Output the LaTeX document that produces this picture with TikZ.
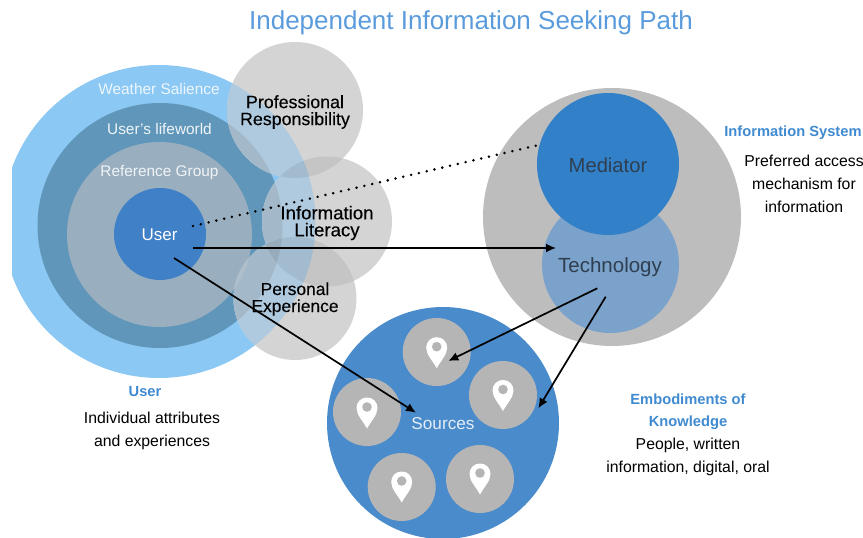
\documentclass[tikz,border=0pt]{standalone}
\usepackage{fontspec}
\setmainfont{Liberation Sans}
\usetikzlibrary{arrows.meta}
\definecolor{outerblue}{HTML}{8CC8F4}
\definecolor{lifeblue}{HTML}{5F96B9}
\definecolor{refgrey}{HTML}{99AFBF}
\definecolor{userblue}{HTML}{3F80C6}
\definecolor{sysgrey}{HTML}{BDBDBD}
\definecolor{medblue}{HTML}{3180C8}
\definecolor{techblue}{HTML}{7AA2CA}
\definecolor{srcblue}{HTML}{4A8BCB}
\definecolor{srcgrey}{HTML}{B5B5B5}
\definecolor{headblue}{HTML}{3F8AD0}
\definecolor{titleblue}{HTML}{5A9BDC}
\definecolor{darktext}{HTML}{2F3F50}
\definecolor{softgrey}{HTML}{D4D4D4}
\definecolor{overouter}{HTML}{AFCADF}
\definecolor{overlife}{HTML}{A3B9C9}
\definecolor{overref}{HTML}{AEBECA}
\newcommand{\overlapdisc}[3]{%
  \begin{scope}
    \clip (#1,#2) circle (#3);
    \fill[overouter] (159,221.5) circle (156.5);
    \fill[overlife] (160,225.5) circle (122.5);
    \fill[overref] (159.5,234.5) circle (92.5);
  \end{scope}}
\newcommand{\doubleshade}[6]{%
  \begin{scope}
    \clip (#1,#2) circle (#3);
    \fill[black,fill opacity=.07] (#4,#5) circle (#6);
  \end{scope}}
\tikzset{
  disc/.style={circle,draw=none,inner sep=0pt,minimum size=#1},
  whitetext/.style={text=white,font=\fontsize{#1}{#1}\selectfont},
  blacktext/.style={text=black,align=center,font=\fontsize{#1}{17}\selectfont\addfontfeature{FakeBold=0.25}},
  bodytext/.style={text=black,align=center,font=\fontsize{15.8}{23}\selectfont},
  headtext/.style={text=headblue,align=center,font=\fontsize{14.7}{22}\selectfont\bfseries},
  arrowline/.style={draw=black,line width=1.7pt,-{Latex[length=10pt,width=9pt]}},
  dotline/.style={draw=black,line width=2.8pt,line cap=round,dash pattern=on 0pt off 8pt},
  mappin/.pic={
    \fill[white] (0,20.5) .. controls (-4,13) and (-10.5,7) .. (-10.5,0)
      .. controls (-10.5,-6) and (-6,-10.5) .. (0,-10.5)
      .. controls (6,-10.5) and (10.5,-6) .. (10.5,0)
      .. controls (10.5,7) and (4,13) .. (0,20.5) -- cycle;
    \fill[srcgrey] (0,-1) circle (4.8);
  }
}
\begin{document}
\begin{tikzpicture}[x=1pt,y=-1pt]
\useasboundingbox (0,0) rectangle (863,538);
\begin{scope}
\clip (12,0) rectangle (863,538);
% user rings
\node[disc=313pt,fill=outerblue] (outer) at (159,221.5) {};
\node[disc=245pt,fill=lifeblue] (life) at (160,225.5) {};
\node[disc=185pt,fill=refgrey] (ref) at (159.5,234.5) {};
\node[disc=92pt,fill=userblue] (user) at (160,234) {};
% overlapping circles
\node[disc=136pt,fill=softgrey] (prof) at (295,110) {};
\node[disc=130pt,fill=softgrey] (lit) at (327,221.5) {};
\node[disc=123pt,fill=softgrey] (pers) at (295,298.5) {};
\overlapdisc{295}{110}{68}
\overlapdisc{327}{221.5}{65}
\overlapdisc{295}{298.5}{61.5}
\doubleshade{295}{110}{68}{327}{221.5}{65}
\doubleshade{327}{221.5}{65}{295}{298.5}{61.5}
% information system
\node[disc=258pt,fill=sysgrey] (sys) at (612,217) {};
\node[disc=137pt,fill=techblue] (tech) at (610.5,264.5) {};
\node[disc=142pt,fill=medblue] (med) at (608,164) {};
% sources
\node[disc=232pt,fill=srcblue] (src) at (443,423) {};
\node[disc=68pt,fill=srcgrey] (s1) at (436.7,352) {};
\node[disc=68pt,fill=srcgrey] (s2) at (503,395) {};
\node[disc=68pt,fill=srcgrey] (s3) at (367,412) {};
\node[disc=68pt,fill=srcgrey] (s4) at (401.7,487) {};
\node[disc=68pt,fill=srcgrey] (s5) at (480,479) {};
\end{scope}
\pic at (436.7,347.7) {mappin};
\pic at (503,390.5) {mappin};
\pic at (367,408) {mappin};
\pic at (401.7,482) {mappin};
\pic at (480,474) {mappin};
% text
\node[text=titleblue,font=\fontsize{26}{26}\selectfont] (title) at (471,22.5) {Independent Information Seeking Path};
\node[whitetext=15.4,opacity=.85] (tw) at (159,89) {Weather Salience};
\node[whitetext=15.4,opacity=.9] (tl) at (159.5,129) {User's lifeworld};
\node[whitetext=15.4,opacity=.85] (tr) at (159.5,173) {Reference Group};
\node[whitetext=17] (tu) at (159.5,234.5) {User};
\node[blacktext=17.8] (tp) at (295,112) {Professional\\Responsibility};
\node[blacktext=18.6] (ti) at (327,223) {Information\\Literacy};
\node[blacktext=17.4] (te) at (295,299) {Personal\\Experience};
\node[text=darktext,font=\fontsize{20.2}{20}\selectfont] (tm) at (608,165) {Mediator};
\node[text=darktext,font=\fontsize{20.5}{20}\selectfont] (tt) at (610,267) {Technology};
\node[whitetext=17.2,opacity=.85] (ts) at (443,424) {Sources};
\node[headtext] (hsys) at (793,133) {Information System};
\node[bodytext] (bsys) at (804,184) {Preferred access\\mechanism for\\information};
\node[headtext] (huser) at (145,392) {User};
\node[bodytext] (buser) at (152,431) {Individual attributes\\and experiences};
\node[headtext] (hemb) at (688,412) {Embodiments of\\Knowledge};
\node[bodytext] (bemb) at (688,457) {People, written\\information, digital, oral};
% connector ends
\coordinate (a1) at (193,226);
\coordinate (a2) at (543,144);
\coordinate (b1) at (193,248);
\coordinate (b2) at (556,248);
\coordinate (c1) at (174,258);
\coordinate (c2) at (416,412.7);
\coordinate (d1) at (597.3,288.3);
\coordinate (d2) at (448.3,361);
\coordinate (e1) at (605.7,296.7);
\coordinate (e2) at (538.3,408.3);
\draw[dotline] (a1) -- (a2);
\draw[arrowline] (b1) -- (b2);
\draw[arrowline] (c1) -- (c2);
\draw[arrowline] (d1) -- (d2);
\draw[arrowline] (e1) -- (e2);
\end{tikzpicture}
\end{document}
